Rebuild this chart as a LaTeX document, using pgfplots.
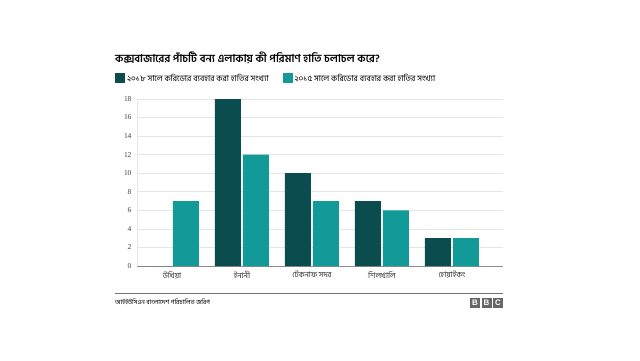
\documentclass[border=0pt]{standalone}
\usepackage{pgfplots}
\pgfplotsset{compat=1.18}
\usepackage{fontspec}
\setmainfont[Script=Bengali]{Hind Siliguri}
\newfontfamily\numfont{Liberation Serif}
\newfontfamily\bbcfont{Liberation Sans}
\definecolor{darkteal}{HTML}{0B4D4F}
\definecolor{lightteal}{HTML}{129A98}
\definecolor{gridgray}{HTML}{E6E6E6}
\begin{document}
\begin{tikzpicture}[x=1bp,y=1bp]
\path[use as bounding box, fill=white] (0,0) rectangle (640,360);
\node[anchor=west, inner sep=0pt, font=\fontsize{10.9}{12}\selectfont\bfseries] at (115,302) {কক্সবাজারের পাঁচটি বন্য এলাকায় কী পরিমাণ হাতি চলাচল করে?};
\begin{axis}[
  at={(137bp,94bp)}, anchor=south west,
  scale only axis, width=366bp, height=167bp,
  ybar=2bp, bar width=26bp,
  xmin=-0.5, xmax=4.73, ymin=0, ymax=18,
  xtick={0,1,2,3,4},
  xticklabels={উখিয়া, ইনানী, টেকনাফ সদর, শিলখালি, হোয়াইকং},
  ytick={0,2,4,6,8,10,12,14,16,18},
  /pgf/number format/assume math mode=true,
  yticklabel style={font=\numfont\fontsize{7.5}{8}\selectfont, text=black!75},
  xticklabel style={font=\fontsize{7.8}{8}\selectfont, text=black!80},
  major tick length=0pt,
  ymajorgrids, grid style={gridgray, line width=0.6pt},
  axis x line*=bottom, axis y line*=left,
  x axis line style={black!45, line width=0.7pt, -},
  y axis line style={gridgray, line width=0.7pt, -},
  xticklabel shift=2bp, yticklabel shift=2bp,
  legend columns=2,
  legend style={at={(0,1)}, anchor=south west, xshift=-22bp, yshift=14bp, draw=none, fill=none, inner sep=0pt,
    font=\fontsize{8.25}{9}\selectfont,
    /tikz/every even column/.append style={column sep=12bp}},
  legend image code/.code={\fill[#1] (0bp,-5bp) rectangle (10bp,5bp);},
]
\addplot[fill=darkteal, draw=none] coordinates {(0,0) (1,18) (2,10) (3,7) (4,3)};
\addlegendentry{২০১৮ সালে করিডোর ব্যবহার করা হাতির সংখ্যা}
\addplot[fill=lightteal, draw=none] coordinates {(0,7) (1,12) (2,7) (3,6) (4,3)};
\addlegendentry{২০১৫ সালে করিডোর ব্যবহার করা হাতির সংখ্যা}
\end{axis}
\draw[black!55, line width=0.9pt] (115,67) -- (503,67);
\node[anchor=west, inner sep=0pt, font=\fontsize{6.3}{7}\selectfont] at (115,58) {আইইউসিএন বাংলাদেশ পরিচালিত জরিপ};
\foreach \i/\l in {0/B,1/B,2/C} {
  \fill[black!60] (470+\i*11.5,52) rectangle ++(10,10);
  \node[text=white, inner sep=0pt, font=\bbcfont\bfseries\fontsize{8}{8}\selectfont] at (475+\i*11.5,57) {\l};
}
\end{tikzpicture}
\end{document}
